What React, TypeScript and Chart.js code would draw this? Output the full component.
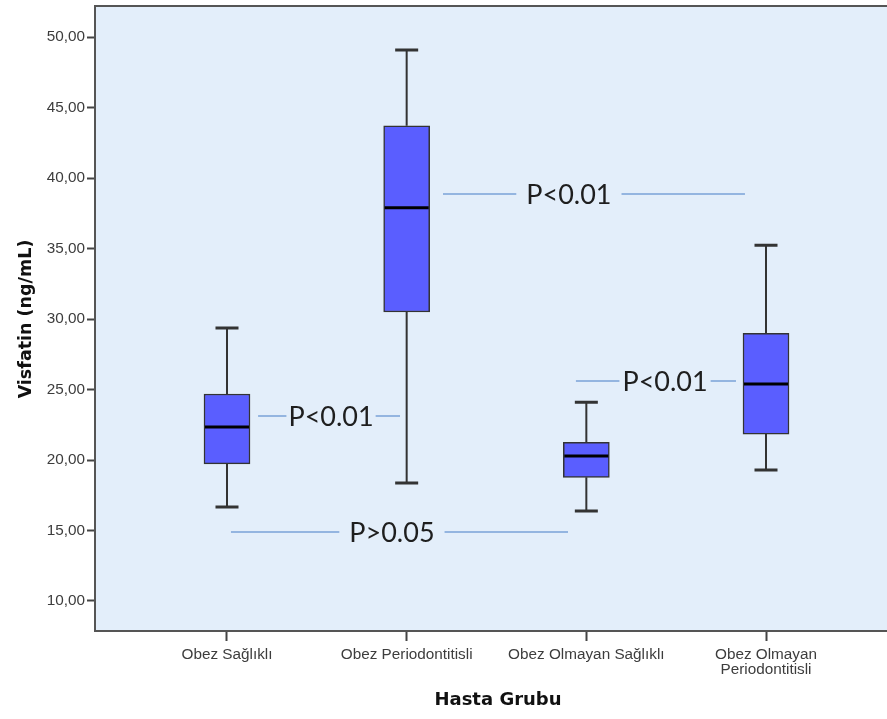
import { useEffect, useRef } from "react";
import { Chart, registerables } from "chart.js";

Chart.register(...registerables);

// ---- data ----
const categories: (string | string[])[] = [
  "Obez Sağlıklı",
  "Obez Periodontitisli",
  "Obez Olmayan Sağlıklı",
  ["Obez Olmayan", "Periodontitisli"],
];
const positions = [1, 2, 3, 4];
const whiskerMin = [16.67, 18.37, 16.38, 19.29];
const q1 = [19.72, 30.5, 18.77, 21.84];
const median = [22.34, 37.9, 20.28, 25.39];
const q3 = [24.68, 43.71, 21.26, 28.99];
const whiskerMax = [29.36, 49.08, 24.09, 35.23];
const yTicks = [10, 15, 20, 25, 30, 35, 40, 45, 50];

const annotationLabels = ["P<0.01", "P<0.01", "P<0.01", "P>0.05"];
const annotationY = [23.12, 38.87, 25.6, 14.9];
const annotationFrom = [1.173, 2.202, 2.942, 1.022];
const annotationTo = [1.963, 3.883, 3.833, 2.898];
const annotationTextAt = [1.579, 2.903, 3.438, 1.918];

// ---- styles ----
const annotationGap = [2, 10, 3, 10];
const BG = "#e3eefa";
const BOX_FILL = "#5a5eff";
const DARK = "#333333";

const boxPlugin = {
  id: "boxExtras",
  beforeDraw(chart: any) {
    const { ctx, chartArea: a } = chart;
    ctx.save();
    ctx.fillStyle = BG;
    ctx.fillRect(a.left, a.top, a.right - a.left, a.bottom - a.top);
    ctx.restore();
  },
  beforeDatasetsDraw(chart: any) {
    const { ctx, scales } = chart;
    const meta = chart.getDatasetMeta(0);
    ctx.save();
    ctx.strokeStyle = DARK;
    positions.forEach((p, i) => {
      const bar = meta.data[i];
      const w = bar ? bar.width : 46;
      const x = scales.x.getPixelForValue(p);
      const yMax = scales.y.getPixelForValue(whiskerMax[i]);
      const yMin = scales.y.getPixelForValue(whiskerMin[i]);
      const yQ1 = scales.y.getPixelForValue(q1[i]);
      const yQ3 = scales.y.getPixelForValue(q3[i]);
      ctx.lineWidth = 2;
      ctx.beginPath();
      ctx.moveTo(x, yQ3);
      ctx.lineTo(x, yMax);
      ctx.moveTo(x, yQ1);
      ctx.lineTo(x, yMin);
      ctx.stroke();
      ctx.lineWidth = 3;
      ctx.beginPath();
      ctx.moveTo(x - w / 4, yMax);
      ctx.lineTo(x + w / 4, yMax);
      ctx.moveTo(x - w / 4, yMin);
      ctx.lineTo(x + w / 4, yMin);
      ctx.stroke();
    });
    ctx.restore();
  },
  afterDatasetsDraw(chart: any) {
    const { ctx, scales, chartArea: a } = chart;
    const meta = chart.getDatasetMeta(0);
    ctx.save();
    // medians
    ctx.strokeStyle = "#000000";
    ctx.lineWidth = 3;
    positions.forEach((p, i) => {
      const bar = meta.data[i];
      const w = bar ? bar.width : 46;
      const x = scales.x.getPixelForValue(p);
      const y = scales.y.getPixelForValue(median[i]);
      ctx.beginPath();
      ctx.moveTo(x - w / 2 + 1, y);
      ctx.lineTo(x + w / 2 - 1, y);
      ctx.stroke();
    });
    // annotations
    ctx.font = "27px Lato";
    ctx.textAlign = "center";
    ctx.textBaseline = "middle";
    annotationLabels.forEach((label, i) => {
      const y = scales.y.getPixelForValue(annotationY[i]);
      const x0 = scales.x.getPixelForValue(annotationFrom[i]);
      const x1 = scales.x.getPixelForValue(annotationTo[i]);
      const xt = scales.x.getPixelForValue(annotationTextAt[i]);
      const tw = ctx.measureText(label).width;
      const g = annotationGap[i];
      ctx.strokeStyle = "#7ba3d8";
      ctx.lineWidth = 1.5;
      ctx.beginPath();
      ctx.moveTo(x0, y);
      ctx.lineTo(xt - tw / 2 - g, y);
      ctx.moveTo(xt + tw / 2 + g, y);
      ctx.lineTo(x1, y);
      ctx.stroke();
      ctx.fillStyle = "#1e1e1e";
      ctx.fillText(label, xt, y + 1);
    });
    // frame
    ctx.strokeStyle = "#555555";
    ctx.lineWidth = 2;
    ctx.beginPath();
    ctx.moveTo(a.right + 2, a.top - 1);
    ctx.lineTo(a.left - 1, a.top - 1);
    ctx.lineTo(a.left - 1, a.bottom);
    ctx.lineTo(a.right + 2, a.bottom);
    ctx.stroke();
    ctx.restore();
  },
};

export default function App() {
  const ref = useRef<HTMLCanvasElement>(null);
  useEffect(() => {
    if (!ref.current) return;
    const chart = new Chart(ref.current, {
      type: "bar",
      data: {
        datasets: [
          {
            data: positions.map((x, i) => ({ x, y: [q1[i], q3[i]] })) as any,
            backgroundColor: BOX_FILL,
            borderColor: DARK,
            borderWidth: 1.5,
            borderSkipped: false,
            barThickness: 46,
          },
        ],
      },
      options: {
        animation: false,
        responsive: true,
        maintainAspectRatio: false,
        layout: { padding: { left: 0, right: 0, top: 7, bottom: 0 } },
        plugins: {
          legend: { display: false },
          tooltip: { enabled: false },
        },
        scales: {
          x: {
            type: "linear",
            offset: false,
            min: 0.2709,
            max: 4.7458,
            afterBuildTicks: (s: any) => {
              s.ticks = positions.map((v) => ({ value: v }));
            },
            afterFit: (s: any) => {
              s.height = 88;
              s.paddingLeft = 0;
              s.paddingRight = 0;
            },
            border: { display: false },
            grid: {
              display: true,
              offset: false,
              drawOnChartArea: false,
              drawTicks: true,
              tickLength: 10,
              tickWidth: 2,
              tickColor: "#444444",
            },
            ticks: {
              autoSkip: false,
              maxRotation: 0,
              padding: 6,
              color: "#3d3d3d",
              font: { family: "'Liberation Sans', Arial, sans-serif", size: 15.3, lineHeight: 1.0 },
              callback: (v: any) => {
                const i = positions.indexOf(Number(v));
                return i >= 0 ? (categories[i] as any) : "";
              },
            },
            title: {
              display: true,
              text: "Hasta Grubu",
              color: "#111111",
              font: { family: "'DejaVu Sans', Verdana, sans-serif", size: 18, weight: "bold" },
              padding: { top: 0, bottom: 8 },
            },
          },
          y: {
            type: "linear",
            min: 7.872,
            max: 52.13,
            afterBuildTicks: (s: any) => {
              s.ticks = yTicks.map((v) => ({ value: v }));
            },
            afterFit: (s: any) => {
              s.width = 96;
              s.paddingTop = 0;
              s.paddingBottom = 0;
            },
            border: { display: false },
            grid: {
              display: true,
              drawOnChartArea: false,
              drawTicks: true,
              tickLength: 9,
              tickWidth: 2,
              tickColor: "#444444",
            },
            ticks: {
              padding: 2,
              color: "#3d3d3d",
              font: { family: "'Liberation Sans', Arial, sans-serif", size: 15.3 },
              callback: (v: any) => Number(v).toFixed(2).replace(".", ","),
            },
            title: {
              display: true,
              text: "Visfatin (ng/mL)",
              color: "#111111",
              font: { family: "'DejaVu Sans', Verdana, sans-serif", size: 17.5, weight: "bold" },
              padding: { top: 16, bottom: 0 },
            },
          },
        },
      },
      plugins: [boxPlugin],
    });
    return () => chart.destroy();
  }, []);

  return (
    <div style={{ position: "fixed", left: 0, top: 0, width: 900, height: 719, background: "#ffffff" }}>
      <canvas ref={ref} />
    </div>
  );
}
